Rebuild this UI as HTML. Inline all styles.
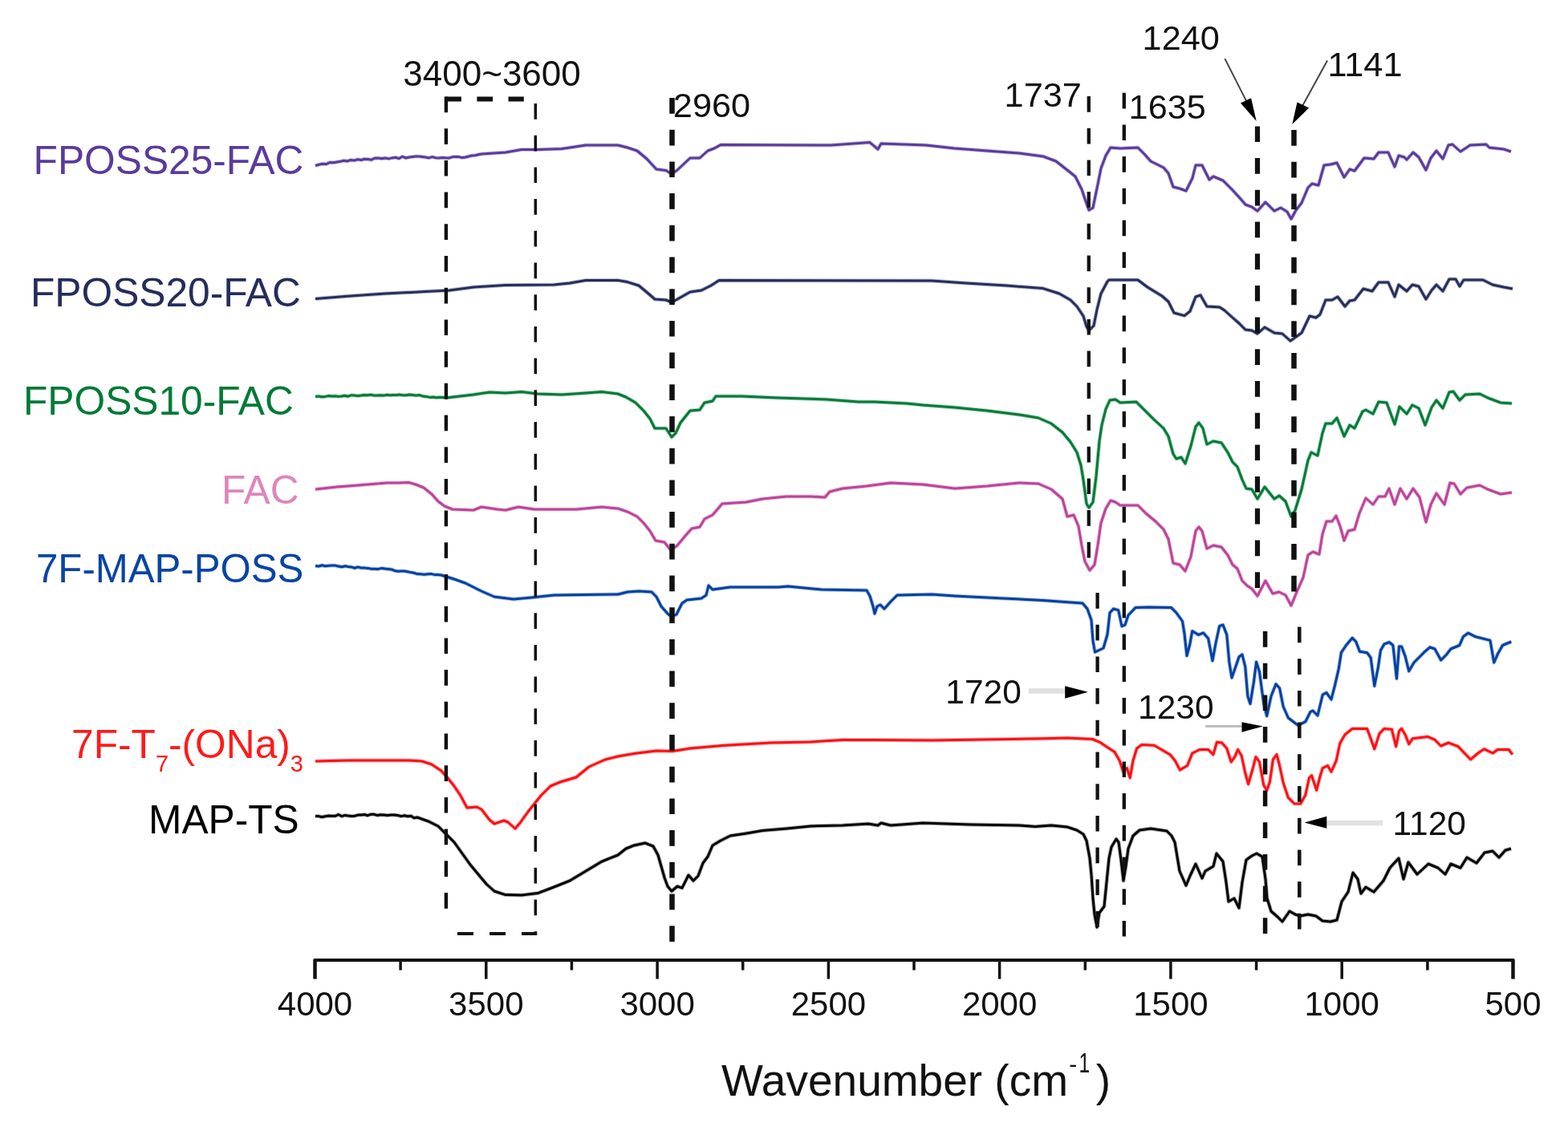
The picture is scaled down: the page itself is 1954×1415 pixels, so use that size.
<!DOCTYPE html>
<html><head><meta charset="utf-8"><style>
html,body{margin:0;padding:0;background:#fff;}
svg{display:block;}
text{font-family:"Liberation Sans",Arial,sans-serif;}
.tk{font-size:42px;text-anchor:middle;fill:#111;}
.an{font-size:44px;fill:#111;}
.lb{font-size:49.7px;}
</style></head><body>
<svg width="1954" height="1415" viewBox="0 0 1954 1415">
<rect width="1954" height="1415" fill="#fff"/>
<line x1="391.0" y1="1197" x2="1887.0" y2="1197" stroke="#111" stroke-width="4"/>
<line x1="1885.5" y1="1196" x2="1885.5" y2="1220.5" stroke="#111" stroke-width="4.5"/>
<text x="1885.5" y="1266" class="tk">500</text>
<line x1="1778.9" y1="1196" x2="1778.9" y2="1209.5" stroke="#111" stroke-width="3.5"/>
<line x1="1672.2" y1="1196" x2="1672.2" y2="1220.5" stroke="#111" stroke-width="3.5"/>
<text x="1672.2" y="1266" class="tk">1000</text>
<line x1="1565.6" y1="1196" x2="1565.6" y2="1209.5" stroke="#111" stroke-width="3.5"/>
<line x1="1458.9" y1="1196" x2="1458.9" y2="1220.5" stroke="#111" stroke-width="3.5"/>
<text x="1458.9" y="1266" class="tk">1500</text>
<line x1="1352.3" y1="1196" x2="1352.3" y2="1209.5" stroke="#111" stroke-width="3.5"/>
<line x1="1245.6" y1="1196" x2="1245.6" y2="1220.5" stroke="#111" stroke-width="3.5"/>
<text x="1245.6" y="1266" class="tk">2000</text>
<line x1="1139.0" y1="1196" x2="1139.0" y2="1209.5" stroke="#111" stroke-width="3.5"/>
<line x1="1032.4" y1="1196" x2="1032.4" y2="1220.5" stroke="#111" stroke-width="3.5"/>
<text x="1032.4" y="1266" class="tk">2500</text>
<line x1="925.7" y1="1196" x2="925.7" y2="1209.5" stroke="#111" stroke-width="3.5"/>
<line x1="819.1" y1="1196" x2="819.1" y2="1220.5" stroke="#111" stroke-width="3.5"/>
<text x="819.1" y="1266" class="tk">3000</text>
<line x1="712.4" y1="1196" x2="712.4" y2="1209.5" stroke="#111" stroke-width="3.5"/>
<line x1="605.8" y1="1196" x2="605.8" y2="1220.5" stroke="#111" stroke-width="3.5"/>
<text x="605.8" y="1266" class="tk">3500</text>
<line x1="499.1" y1="1196" x2="499.1" y2="1209.5" stroke="#111" stroke-width="3.5"/>
<line x1="392.5" y1="1196" x2="392.5" y2="1220.5" stroke="#111" stroke-width="4.5"/>
<text x="392.5" y="1266" class="tk">4000</text>
<path d="M393.0,206.5 L397.5,205.3 L402.0,204.2 L406.5,204.6 L411.0,202.5 L415.5,202.8 L420.0,202.0 L424.3,201.3 L428.6,200.2 L432.9,200.9 L437.1,199.5 L441.4,200.1 L445.7,198.8 L450.0,199.5 L454.3,198.2 L458.6,198.6 L462.9,199.2 L467.1,197.2 L471.4,197.1 L475.7,197.7 L480.0,197.0 L484.3,197.9 L488.6,196.9 L492.9,196.3 L497.1,197.6 L501.4,195.2 L505.7,197.0 L510.0,196.0 L514.0,195.5 L518.0,195.1 L522.0,195.1 L526.0,195.5 L530.0,196.0 L534.3,196.9 L538.7,195.6 L543.0,196.7 L547.3,197.0 L551.7,196.5 L556.0,197.0 L560.0,196.9 L564.0,195.6 L568.0,195.4 L572.0,195.6 L576.0,196.6 L580.0,196.0 L584.0,195.0 L588.0,194.0 L592.0,193.8 L596.0,192.7 L600.0,192.0 L630.0,190.0 L650.0,186.4 L670.0,186.4 L700.0,185.6 L730.0,181.0 L770.0,181.0 L782.0,184.0 L794.0,188.0 L806.0,198.0 L818.0,211.0 L830.0,212.4 L837.0,217.0 L844.0,212.0 L860.0,197.0 L872.0,197.0 L882.0,188.0 L890.0,185.0 L898.0,180.6 L1036.0,181.0 L1084.0,177.6 L1094.0,186.0 L1098.0,179.0 L1154.0,181.0 L1190.0,185.0 L1230.0,188.0 L1270.0,191.0 L1300.0,195.0 L1316.0,201.0 L1330.0,212.0 L1340.0,220.0 L1348.0,236.0 L1352.0,248.0 L1357.0,262.0 L1362.0,259.0 L1368.0,230.0 L1372.0,210.0 L1378.0,194.0 L1384.0,184.0 L1396.0,185.0 L1418.0,184.0 L1426.0,192.0 L1434.0,201.0 L1450.0,209.0 L1456.0,216.0 L1462.0,233.0 L1470.0,235.0 L1478.0,238.0 L1486.0,222.0 L1490.0,206.0 L1498.0,206.0 L1507.0,224.0 L1512.0,220.0 L1524.0,225.0 L1536.0,237.0 L1546.0,248.0 L1552.0,255.0 L1560.0,258.0 L1567.0,263.0 L1577.0,252.0 L1588.0,263.0 L1596.0,259.0 L1604.0,264.0 L1609.0,273.0 L1615.0,262.0 L1622.0,253.0 L1630.0,234.0 L1635.0,229.0 L1643.0,231.0 L1650.0,206.0 L1658.0,205.0 L1666.0,203.0 L1675.0,221.0 L1682.0,211.0 L1688.0,213.0 L1700.0,197.0 L1712.0,198.0 L1718.0,190.0 L1730.0,190.0 L1738.0,208.0 L1743.0,194.0 L1750.0,196.0 L1753.0,199.0 L1761.0,190.0 L1768.0,196.0 L1777.0,212.0 L1783.0,197.0 L1790.0,188.0 L1798.0,198.0 L1805.0,181.0 L1810.0,180.0 L1820.0,189.0 L1832.0,181.0 L1852.0,180.0 L1856.0,184.0 L1874.0,186.0 L1883.0,189.0" fill="none" stroke="#5a3b9b" stroke-opacity="0.3" stroke-width="5" stroke-linejoin="round"/>
<path d="M393.0,206.5 L397.5,205.3 L402.0,204.2 L406.5,204.6 L411.0,202.5 L415.5,202.8 L420.0,202.0 L424.3,201.3 L428.6,200.2 L432.9,200.9 L437.1,199.5 L441.4,200.1 L445.7,198.8 L450.0,199.5 L454.3,198.2 L458.6,198.6 L462.9,199.2 L467.1,197.2 L471.4,197.1 L475.7,197.7 L480.0,197.0 L484.3,197.9 L488.6,196.9 L492.9,196.3 L497.1,197.6 L501.4,195.2 L505.7,197.0 L510.0,196.0 L514.0,195.5 L518.0,195.1 L522.0,195.1 L526.0,195.5 L530.0,196.0 L534.3,196.9 L538.7,195.6 L543.0,196.7 L547.3,197.0 L551.7,196.5 L556.0,197.0 L560.0,196.9 L564.0,195.6 L568.0,195.4 L572.0,195.6 L576.0,196.6 L580.0,196.0 L584.0,195.0 L588.0,194.0 L592.0,193.8 L596.0,192.7 L600.0,192.0 L630.0,190.0 L650.0,186.4 L670.0,186.4 L700.0,185.6 L730.0,181.0 L770.0,181.0 L782.0,184.0 L794.0,188.0 L806.0,198.0 L818.0,211.0 L830.0,212.4 L837.0,217.0 L844.0,212.0 L860.0,197.0 L872.0,197.0 L882.0,188.0 L890.0,185.0 L898.0,180.6 L1036.0,181.0 L1084.0,177.6 L1094.0,186.0 L1098.0,179.0 L1154.0,181.0 L1190.0,185.0 L1230.0,188.0 L1270.0,191.0 L1300.0,195.0 L1316.0,201.0 L1330.0,212.0 L1340.0,220.0 L1348.0,236.0 L1352.0,248.0 L1357.0,262.0 L1362.0,259.0 L1368.0,230.0 L1372.0,210.0 L1378.0,194.0 L1384.0,184.0 L1396.0,185.0 L1418.0,184.0 L1426.0,192.0 L1434.0,201.0 L1450.0,209.0 L1456.0,216.0 L1462.0,233.0 L1470.0,235.0 L1478.0,238.0 L1486.0,222.0 L1490.0,206.0 L1498.0,206.0 L1507.0,224.0 L1512.0,220.0 L1524.0,225.0 L1536.0,237.0 L1546.0,248.0 L1552.0,255.0 L1560.0,258.0 L1567.0,263.0 L1577.0,252.0 L1588.0,263.0 L1596.0,259.0 L1604.0,264.0 L1609.0,273.0 L1615.0,262.0 L1622.0,253.0 L1630.0,234.0 L1635.0,229.0 L1643.0,231.0 L1650.0,206.0 L1658.0,205.0 L1666.0,203.0 L1675.0,221.0 L1682.0,211.0 L1688.0,213.0 L1700.0,197.0 L1712.0,198.0 L1718.0,190.0 L1730.0,190.0 L1738.0,208.0 L1743.0,194.0 L1750.0,196.0 L1753.0,199.0 L1761.0,190.0 L1768.0,196.0 L1777.0,212.0 L1783.0,197.0 L1790.0,188.0 L1798.0,198.0 L1805.0,181.0 L1810.0,180.0 L1820.0,189.0 L1832.0,181.0 L1852.0,180.0 L1856.0,184.0 L1874.0,186.0 L1883.0,189.0" fill="none" stroke="#5a3b9b" stroke-width="3.0" stroke-linejoin="round"/>
<path d="M393.0,372.4 L430.0,369.6 L480.0,366.0 L530.0,363.6 L560.0,362.0 L590.0,358.0 L630.0,355.6 L690.0,355.0 L710.0,353.0 L730.0,349.4 L770.0,349.4 L782.0,351.6 L796.0,356.0 L808.0,366.0 L816.0,373.0 L830.0,374.0 L837.0,377.0 L846.0,372.0 L860.0,364.0 L874.0,362.0 L886.0,356.0 L896.0,349.6 L1161.0,350.0 L1204.0,353.0 L1254.0,356.0 L1300.0,359.6 L1320.0,366.0 L1334.0,374.0 L1342.0,382.0 L1350.0,394.0 L1354.0,407.0 L1357.0,412.0 L1363.0,406.0 L1367.0,386.0 L1372.0,366.0 L1380.0,351.0 L1382.0,349.0 L1418.0,349.0 L1430.0,358.0 L1448.0,369.0 L1456.0,376.0 L1463.0,390.0 L1476.0,393.6 L1483.0,388.0 L1490.0,370.0 L1496.0,368.0 L1504.0,382.0 L1520.0,383.0 L1526.0,387.0 L1536.0,396.0 L1544.0,403.0 L1552.0,411.0 L1560.0,412.0 L1567.0,416.0 L1576.0,408.0 L1588.0,415.0 L1598.0,416.0 L1608.0,425.0 L1615.0,420.0 L1622.0,415.0 L1632.0,394.0 L1640.0,396.0 L1645.0,392.0 L1652.0,374.0 L1660.0,374.0 L1667.0,370.0 L1676.0,382.0 L1682.0,375.0 L1688.0,374.0 L1699.0,360.0 L1710.0,363.0 L1718.0,352.0 L1730.0,352.0 L1738.0,370.0 L1743.0,355.0 L1753.0,363.0 L1760.0,355.0 L1768.0,357.0 L1777.0,373.0 L1784.0,362.0 L1790.0,355.0 L1798.0,363.0 L1806.0,348.0 L1814.0,348.0 L1819.0,357.0 L1824.0,349.0 L1848.0,349.0 L1860.0,355.0 L1874.0,358.0 L1885.0,360.0" fill="none" stroke="#252d5c" stroke-opacity="0.3" stroke-width="5" stroke-linejoin="round"/>
<path d="M393.0,372.4 L430.0,369.6 L480.0,366.0 L530.0,363.6 L560.0,362.0 L590.0,358.0 L630.0,355.6 L690.0,355.0 L710.0,353.0 L730.0,349.4 L770.0,349.4 L782.0,351.6 L796.0,356.0 L808.0,366.0 L816.0,373.0 L830.0,374.0 L837.0,377.0 L846.0,372.0 L860.0,364.0 L874.0,362.0 L886.0,356.0 L896.0,349.6 L1161.0,350.0 L1204.0,353.0 L1254.0,356.0 L1300.0,359.6 L1320.0,366.0 L1334.0,374.0 L1342.0,382.0 L1350.0,394.0 L1354.0,407.0 L1357.0,412.0 L1363.0,406.0 L1367.0,386.0 L1372.0,366.0 L1380.0,351.0 L1382.0,349.0 L1418.0,349.0 L1430.0,358.0 L1448.0,369.0 L1456.0,376.0 L1463.0,390.0 L1476.0,393.6 L1483.0,388.0 L1490.0,370.0 L1496.0,368.0 L1504.0,382.0 L1520.0,383.0 L1526.0,387.0 L1536.0,396.0 L1544.0,403.0 L1552.0,411.0 L1560.0,412.0 L1567.0,416.0 L1576.0,408.0 L1588.0,415.0 L1598.0,416.0 L1608.0,425.0 L1615.0,420.0 L1622.0,415.0 L1632.0,394.0 L1640.0,396.0 L1645.0,392.0 L1652.0,374.0 L1660.0,374.0 L1667.0,370.0 L1676.0,382.0 L1682.0,375.0 L1688.0,374.0 L1699.0,360.0 L1710.0,363.0 L1718.0,352.0 L1730.0,352.0 L1738.0,370.0 L1743.0,355.0 L1753.0,363.0 L1760.0,355.0 L1768.0,357.0 L1777.0,373.0 L1784.0,362.0 L1790.0,355.0 L1798.0,363.0 L1806.0,348.0 L1814.0,348.0 L1819.0,357.0 L1824.0,349.0 L1848.0,349.0 L1860.0,355.0 L1874.0,358.0 L1885.0,360.0" fill="none" stroke="#252d5c" stroke-width="3.0" stroke-linejoin="round"/>
<path d="M393.0,494.4 L397.1,494.0 L401.1,494.7 L405.2,494.4 L409.3,493.6 L413.4,494.0 L417.4,493.8 L421.5,494.3 L425.6,494.0 L429.6,493.2 L433.7,494.2 L437.8,492.7 L441.9,493.1 L445.9,493.5 L450.0,493.0 L454.0,492.4 L458.0,492.8 L462.0,492.1 L466.0,493.0 L470.0,493.1 L474.0,492.7 L478.0,493.1 L482.0,492.2 L486.0,492.7 L490.0,492.5 L494.0,492.4 L498.0,492.1 L502.0,492.7 L506.0,492.8 L510.0,492.0 L514.3,492.4 L518.6,493.1 L522.9,492.6 L527.1,494.0 L531.4,494.4 L535.7,495.4 L540.0,495.0 L544.0,495.8 L548.0,495.2 L552.0,495.6 L556.0,496.0 L590.0,492.0 L610.0,489.0 L630.0,490.0 L650.0,488.4 L670.0,491.0 L700.0,492.0 L730.0,490.0 L750.0,488.4 L770.0,491.0 L780.0,495.0 L792.0,502.0 L802.0,512.0 L810.0,522.0 L816.0,534.0 L830.0,534.0 L837.0,545.0 L842.0,540.0 L848.0,527.0 L860.0,512.0 L872.0,511.0 L878.0,502.0 L888.0,500.0 L892.0,494.0 L924.0,494.0 L970.0,496.0 L1030.0,498.0 L1070.0,501.0 L1090.0,501.0 L1130.0,503.0 L1150.0,505.0 L1190.0,508.0 L1230.0,512.0 L1270.0,517.0 L1294.0,521.0 L1310.0,528.0 L1324.0,539.0 L1334.0,551.0 L1342.0,564.0 L1347.0,580.0 L1350.0,598.0 L1354.0,628.0 L1357.0,633.0 L1362.0,626.0 L1366.0,594.0 L1370.0,550.0 L1373.0,530.0 L1378.0,510.0 L1383.0,499.0 L1390.0,498.0 L1396.0,502.0 L1416.0,501.0 L1424.0,509.0 L1438.0,523.0 L1450.0,534.0 L1456.0,544.0 L1462.0,566.0 L1466.0,572.0 L1472.0,570.0 L1477.0,578.0 L1484.0,556.0 L1490.0,532.0 L1494.0,527.0 L1499.0,534.0 L1504.0,554.0 L1512.0,550.0 L1522.0,552.0 L1530.0,564.0 L1536.0,576.0 L1542.0,582.0 L1548.0,598.0 L1553.0,609.0 L1560.0,610.0 L1567.0,622.0 L1576.0,607.0 L1588.0,622.0 L1594.0,618.0 L1602.0,625.0 L1609.0,644.0 L1614.0,636.0 L1622.0,610.0 L1630.0,574.0 L1634.0,564.0 L1642.0,568.0 L1648.0,540.0 L1652.0,528.0 L1660.0,528.0 L1666.0,521.0 L1675.0,544.0 L1682.0,530.0 L1688.0,534.0 L1698.0,513.0 L1702.0,511.0 L1711.0,516.0 L1718.0,501.0 L1728.0,502.0 L1738.0,529.0 L1744.0,507.0 L1753.0,516.0 L1760.0,505.0 L1768.0,509.0 L1776.0,530.0 L1784.0,508.0 L1790.0,499.0 L1798.0,509.0 L1806.0,489.0 L1811.0,488.0 L1819.0,499.0 L1826.0,492.0 L1844.0,491.0 L1854.0,496.0 L1870.0,502.0 L1884.0,503.0" fill="none" stroke="#007a36" stroke-opacity="0.3" stroke-width="5" stroke-linejoin="round"/>
<path d="M393.0,494.4 L397.1,494.0 L401.1,494.7 L405.2,494.4 L409.3,493.6 L413.4,494.0 L417.4,493.8 L421.5,494.3 L425.6,494.0 L429.6,493.2 L433.7,494.2 L437.8,492.7 L441.9,493.1 L445.9,493.5 L450.0,493.0 L454.0,492.4 L458.0,492.8 L462.0,492.1 L466.0,493.0 L470.0,493.1 L474.0,492.7 L478.0,493.1 L482.0,492.2 L486.0,492.7 L490.0,492.5 L494.0,492.4 L498.0,492.1 L502.0,492.7 L506.0,492.8 L510.0,492.0 L514.3,492.4 L518.6,493.1 L522.9,492.6 L527.1,494.0 L531.4,494.4 L535.7,495.4 L540.0,495.0 L544.0,495.8 L548.0,495.2 L552.0,495.6 L556.0,496.0 L590.0,492.0 L610.0,489.0 L630.0,490.0 L650.0,488.4 L670.0,491.0 L700.0,492.0 L730.0,490.0 L750.0,488.4 L770.0,491.0 L780.0,495.0 L792.0,502.0 L802.0,512.0 L810.0,522.0 L816.0,534.0 L830.0,534.0 L837.0,545.0 L842.0,540.0 L848.0,527.0 L860.0,512.0 L872.0,511.0 L878.0,502.0 L888.0,500.0 L892.0,494.0 L924.0,494.0 L970.0,496.0 L1030.0,498.0 L1070.0,501.0 L1090.0,501.0 L1130.0,503.0 L1150.0,505.0 L1190.0,508.0 L1230.0,512.0 L1270.0,517.0 L1294.0,521.0 L1310.0,528.0 L1324.0,539.0 L1334.0,551.0 L1342.0,564.0 L1347.0,580.0 L1350.0,598.0 L1354.0,628.0 L1357.0,633.0 L1362.0,626.0 L1366.0,594.0 L1370.0,550.0 L1373.0,530.0 L1378.0,510.0 L1383.0,499.0 L1390.0,498.0 L1396.0,502.0 L1416.0,501.0 L1424.0,509.0 L1438.0,523.0 L1450.0,534.0 L1456.0,544.0 L1462.0,566.0 L1466.0,572.0 L1472.0,570.0 L1477.0,578.0 L1484.0,556.0 L1490.0,532.0 L1494.0,527.0 L1499.0,534.0 L1504.0,554.0 L1512.0,550.0 L1522.0,552.0 L1530.0,564.0 L1536.0,576.0 L1542.0,582.0 L1548.0,598.0 L1553.0,609.0 L1560.0,610.0 L1567.0,622.0 L1576.0,607.0 L1588.0,622.0 L1594.0,618.0 L1602.0,625.0 L1609.0,644.0 L1614.0,636.0 L1622.0,610.0 L1630.0,574.0 L1634.0,564.0 L1642.0,568.0 L1648.0,540.0 L1652.0,528.0 L1660.0,528.0 L1666.0,521.0 L1675.0,544.0 L1682.0,530.0 L1688.0,534.0 L1698.0,513.0 L1702.0,511.0 L1711.0,516.0 L1718.0,501.0 L1728.0,502.0 L1738.0,529.0 L1744.0,507.0 L1753.0,516.0 L1760.0,505.0 L1768.0,509.0 L1776.0,530.0 L1784.0,508.0 L1790.0,499.0 L1798.0,509.0 L1806.0,489.0 L1811.0,488.0 L1819.0,499.0 L1826.0,492.0 L1844.0,491.0 L1854.0,496.0 L1870.0,502.0 L1884.0,503.0" fill="none" stroke="#007a36" stroke-width="3.0" stroke-linejoin="round"/>
<path d="M393.0,610.0 L420.0,607.0 L440.0,605.6 L482.0,602.0 L498.0,602.0 L510.0,601.6 L518.0,604.0 L528.0,608.0 L538.0,616.0 L546.0,625.0 L554.0,631.0 L564.0,635.0 L590.0,636.0 L600.0,632.0 L620.0,635.0 L630.0,636.0 L646.0,632.0 L666.0,635.0 L718.0,635.0 L750.0,632.0 L770.0,634.0 L782.0,638.0 L794.0,644.0 L802.0,652.0 L810.0,662.0 L817.0,674.0 L828.0,676.0 L836.0,686.0 L844.0,680.0 L854.0,668.0 L862.0,659.0 L872.0,657.0 L878.0,647.0 L888.0,642.0 L900.0,628.0 L930.0,626.0 L950.0,622.0 L980.0,619.0 L1010.0,619.0 L1028.0,620.0 L1034.0,613.0 L1050.0,609.0 L1080.0,606.0 L1110.0,602.0 L1150.0,604.0 L1190.0,609.0 L1230.0,606.0 L1270.0,602.0 L1294.0,603.0 L1310.0,610.0 L1324.0,622.0 L1330.0,644.0 L1338.0,642.0 L1344.0,656.0 L1348.0,680.0 L1352.0,700.0 L1358.0,711.0 L1364.0,704.0 L1368.0,680.0 L1372.0,652.0 L1378.0,634.0 L1384.0,624.0 L1390.0,626.0 L1396.0,630.0 L1418.0,630.0 L1428.0,640.0 L1440.0,650.0 L1450.0,660.0 L1456.0,672.0 L1462.0,702.0 L1470.0,704.0 L1477.0,712.0 L1484.0,694.0 L1490.0,662.0 L1494.0,657.0 L1498.0,662.0 L1504.0,684.0 L1512.0,680.0 L1522.0,682.0 L1530.0,692.0 L1536.0,704.0 L1542.0,709.0 L1548.0,724.0 L1554.0,730.0 L1560.0,734.0 L1567.0,743.0 L1577.0,724.0 L1586.0,740.0 L1594.0,738.0 L1602.0,742.0 L1609.0,755.0 L1616.0,738.0 L1624.0,720.0 L1630.0,692.0 L1636.0,688.0 L1644.0,691.0 L1648.0,666.0 L1653.0,650.0 L1660.0,650.0 L1665.0,643.0 L1670.0,656.0 L1675.0,674.0 L1680.0,662.0 L1688.0,660.0 L1694.0,640.0 L1702.0,621.0 L1711.0,629.0 L1718.0,619.0 L1726.0,619.0 L1731.0,609.0 L1738.0,629.0 L1745.0,609.0 L1753.0,622.0 L1761.0,609.0 L1769.0,620.0 L1777.0,651.0 L1783.0,629.0 L1790.0,615.0 L1800.0,629.0 L1807.0,602.0 L1812.0,603.0 L1820.0,616.0 L1828.0,608.0 L1844.0,605.0 L1854.0,610.0 L1870.0,616.0 L1884.0,614.0" fill="none" stroke="#bc4499" stroke-opacity="0.3" stroke-width="5" stroke-linejoin="round"/>
<path d="M393.0,610.0 L420.0,607.0 L440.0,605.6 L482.0,602.0 L498.0,602.0 L510.0,601.6 L518.0,604.0 L528.0,608.0 L538.0,616.0 L546.0,625.0 L554.0,631.0 L564.0,635.0 L590.0,636.0 L600.0,632.0 L620.0,635.0 L630.0,636.0 L646.0,632.0 L666.0,635.0 L718.0,635.0 L750.0,632.0 L770.0,634.0 L782.0,638.0 L794.0,644.0 L802.0,652.0 L810.0,662.0 L817.0,674.0 L828.0,676.0 L836.0,686.0 L844.0,680.0 L854.0,668.0 L862.0,659.0 L872.0,657.0 L878.0,647.0 L888.0,642.0 L900.0,628.0 L930.0,626.0 L950.0,622.0 L980.0,619.0 L1010.0,619.0 L1028.0,620.0 L1034.0,613.0 L1050.0,609.0 L1080.0,606.0 L1110.0,602.0 L1150.0,604.0 L1190.0,609.0 L1230.0,606.0 L1270.0,602.0 L1294.0,603.0 L1310.0,610.0 L1324.0,622.0 L1330.0,644.0 L1338.0,642.0 L1344.0,656.0 L1348.0,680.0 L1352.0,700.0 L1358.0,711.0 L1364.0,704.0 L1368.0,680.0 L1372.0,652.0 L1378.0,634.0 L1384.0,624.0 L1390.0,626.0 L1396.0,630.0 L1418.0,630.0 L1428.0,640.0 L1440.0,650.0 L1450.0,660.0 L1456.0,672.0 L1462.0,702.0 L1470.0,704.0 L1477.0,712.0 L1484.0,694.0 L1490.0,662.0 L1494.0,657.0 L1498.0,662.0 L1504.0,684.0 L1512.0,680.0 L1522.0,682.0 L1530.0,692.0 L1536.0,704.0 L1542.0,709.0 L1548.0,724.0 L1554.0,730.0 L1560.0,734.0 L1567.0,743.0 L1577.0,724.0 L1586.0,740.0 L1594.0,738.0 L1602.0,742.0 L1609.0,755.0 L1616.0,738.0 L1624.0,720.0 L1630.0,692.0 L1636.0,688.0 L1644.0,691.0 L1648.0,666.0 L1653.0,650.0 L1660.0,650.0 L1665.0,643.0 L1670.0,656.0 L1675.0,674.0 L1680.0,662.0 L1688.0,660.0 L1694.0,640.0 L1702.0,621.0 L1711.0,629.0 L1718.0,619.0 L1726.0,619.0 L1731.0,609.0 L1738.0,629.0 L1745.0,609.0 L1753.0,622.0 L1761.0,609.0 L1769.0,620.0 L1777.0,651.0 L1783.0,629.0 L1790.0,615.0 L1800.0,629.0 L1807.0,602.0 L1812.0,603.0 L1820.0,616.0 L1828.0,608.0 L1844.0,605.0 L1854.0,610.0 L1870.0,616.0 L1884.0,614.0" fill="none" stroke="#bc4499" stroke-width="3.0" stroke-linejoin="round"/>
<path d="M393.0,705.6 L397.1,706.0 L401.3,704.8 L405.4,705.7 L409.6,705.2 L413.7,705.1 L417.9,705.1 L422.0,706.0 L426.0,706.8 L430.0,705.8 L434.0,706.4 L438.0,706.9 L442.0,708.2 L446.0,706.9 L450.0,708.0 L454.3,708.0 L458.6,708.4 L462.9,709.2 L467.1,709.2 L471.4,709.4 L475.7,708.4 L480.0,709.0 L484.0,709.4 L488.0,709.9 L492.0,711.6 L496.0,712.3 L500.0,712.0 L504.0,712.0 L508.0,712.8 L512.0,713.6 L516.0,714.3 L520.0,715.6 L524.3,715.8 L528.6,716.2 L532.9,715.7 L537.1,715.4 L541.4,716.4 L545.7,716.5 L550.0,717.0 L566.0,722.0 L580.0,727.0 L600.0,737.0 L616.0,744.0 L640.0,747.0 L662.0,745.0 L690.0,742.0 L770.0,741.0 L782.0,738.0 L796.0,737.0 L812.0,738.0 L818.0,744.0 L824.0,756.0 L832.0,765.0 L837.0,769.0 L843.0,766.0 L850.0,752.0 L856.0,748.0 L874.0,746.0 L880.0,742.0 L883.0,730.0 L888.0,735.0 L910.0,732.0 L970.0,732.0 L982.0,731.0 L1024.0,735.0 L1080.0,736.0 L1084.0,743.0 L1088.0,756.0 L1090.0,765.0 L1093.0,756.0 L1097.0,754.0 L1102.0,759.0 L1110.0,750.0 L1118.0,742.0 L1161.0,741.0 L1190.0,743.0 L1250.0,746.0 L1300.0,748.4 L1330.7,750.7 L1349.0,752.0 L1355.0,759.0 L1360.0,773.0 L1362.0,799.0 L1364.5,813.0 L1375.0,808.0 L1380.0,791.0 L1383.0,764.0 L1387.5,759.0 L1393.7,760.7 L1398.0,780.7 L1402.0,779.0 L1406.0,767.0 L1415.0,757.6 L1430.5,757.0 L1459.7,757.6 L1466.0,764.0 L1473.5,774.5 L1476.0,790.0 L1479.0,817.5 L1482.7,803.7 L1485.8,786.8 L1493.5,791.4 L1499.6,789.0 L1505.7,796.0 L1511.0,823.7 L1515.0,802.0 L1519.6,780.7 L1524.0,779.0 L1528.8,791.4 L1531.8,825.2 L1535.0,845.0 L1538.7,834.4 L1544.0,819.0 L1548.0,816.0 L1551.8,831.3 L1554.9,868.0 L1558.0,877.4 L1562.5,849.8 L1565.6,825.2 L1569.5,837.5 L1574.8,877.4 L1578.7,892.7 L1584.0,868.0 L1590.0,852.8 L1594.6,858.0 L1599.2,881.0 L1605.4,895.0 L1617.6,904.3 L1626.8,899.7 L1633.0,887.4 L1636.0,886.0 L1642.0,892.0 L1648.3,866.0 L1653.0,863.6 L1659.0,872.0 L1663.7,853.7 L1668.3,833.7 L1671.4,813.7 L1677.5,804.5 L1685.2,795.3 L1689.8,800.0 L1694.4,812.2 L1703.6,813.7 L1708.2,820.0 L1712.8,855.2 L1717.4,832.0 L1720.5,810.7 L1725.0,803.0 L1731.3,800.7 L1735.9,804.5 L1740.5,846.0 L1743.5,806.0 L1746.6,806.0 L1751.2,818.3 L1755.8,836.8 L1762.0,826.0 L1768.0,820.0 L1774.2,813.7 L1782.0,806.8 L1788.0,809.0 L1795.7,823.0 L1801.9,816.8 L1808.0,809.0 L1818.8,804.5 L1823.4,793.8 L1829.5,789.2 L1838.7,793.8 L1857.0,798.4 L1861.8,826.0 L1866.4,815.3 L1872.5,804.5 L1883.3,800.0" fill="none" stroke="#0040a2" stroke-opacity="0.3" stroke-width="5" stroke-linejoin="round"/>
<path d="M393.0,705.6 L397.1,706.0 L401.3,704.8 L405.4,705.7 L409.6,705.2 L413.7,705.1 L417.9,705.1 L422.0,706.0 L426.0,706.8 L430.0,705.8 L434.0,706.4 L438.0,706.9 L442.0,708.2 L446.0,706.9 L450.0,708.0 L454.3,708.0 L458.6,708.4 L462.9,709.2 L467.1,709.2 L471.4,709.4 L475.7,708.4 L480.0,709.0 L484.0,709.4 L488.0,709.9 L492.0,711.6 L496.0,712.3 L500.0,712.0 L504.0,712.0 L508.0,712.8 L512.0,713.6 L516.0,714.3 L520.0,715.6 L524.3,715.8 L528.6,716.2 L532.9,715.7 L537.1,715.4 L541.4,716.4 L545.7,716.5 L550.0,717.0 L566.0,722.0 L580.0,727.0 L600.0,737.0 L616.0,744.0 L640.0,747.0 L662.0,745.0 L690.0,742.0 L770.0,741.0 L782.0,738.0 L796.0,737.0 L812.0,738.0 L818.0,744.0 L824.0,756.0 L832.0,765.0 L837.0,769.0 L843.0,766.0 L850.0,752.0 L856.0,748.0 L874.0,746.0 L880.0,742.0 L883.0,730.0 L888.0,735.0 L910.0,732.0 L970.0,732.0 L982.0,731.0 L1024.0,735.0 L1080.0,736.0 L1084.0,743.0 L1088.0,756.0 L1090.0,765.0 L1093.0,756.0 L1097.0,754.0 L1102.0,759.0 L1110.0,750.0 L1118.0,742.0 L1161.0,741.0 L1190.0,743.0 L1250.0,746.0 L1300.0,748.4 L1330.7,750.7 L1349.0,752.0 L1355.0,759.0 L1360.0,773.0 L1362.0,799.0 L1364.5,813.0 L1375.0,808.0 L1380.0,791.0 L1383.0,764.0 L1387.5,759.0 L1393.7,760.7 L1398.0,780.7 L1402.0,779.0 L1406.0,767.0 L1415.0,757.6 L1430.5,757.0 L1459.7,757.6 L1466.0,764.0 L1473.5,774.5 L1476.0,790.0 L1479.0,817.5 L1482.7,803.7 L1485.8,786.8 L1493.5,791.4 L1499.6,789.0 L1505.7,796.0 L1511.0,823.7 L1515.0,802.0 L1519.6,780.7 L1524.0,779.0 L1528.8,791.4 L1531.8,825.2 L1535.0,845.0 L1538.7,834.4 L1544.0,819.0 L1548.0,816.0 L1551.8,831.3 L1554.9,868.0 L1558.0,877.4 L1562.5,849.8 L1565.6,825.2 L1569.5,837.5 L1574.8,877.4 L1578.7,892.7 L1584.0,868.0 L1590.0,852.8 L1594.6,858.0 L1599.2,881.0 L1605.4,895.0 L1617.6,904.3 L1626.8,899.7 L1633.0,887.4 L1636.0,886.0 L1642.0,892.0 L1648.3,866.0 L1653.0,863.6 L1659.0,872.0 L1663.7,853.7 L1668.3,833.7 L1671.4,813.7 L1677.5,804.5 L1685.2,795.3 L1689.8,800.0 L1694.4,812.2 L1703.6,813.7 L1708.2,820.0 L1712.8,855.2 L1717.4,832.0 L1720.5,810.7 L1725.0,803.0 L1731.3,800.7 L1735.9,804.5 L1740.5,846.0 L1743.5,806.0 L1746.6,806.0 L1751.2,818.3 L1755.8,836.8 L1762.0,826.0 L1768.0,820.0 L1774.2,813.7 L1782.0,806.8 L1788.0,809.0 L1795.7,823.0 L1801.9,816.8 L1808.0,809.0 L1818.8,804.5 L1823.4,793.8 L1829.5,789.2 L1838.7,793.8 L1857.0,798.4 L1861.8,826.0 L1866.4,815.3 L1872.5,804.5 L1883.3,800.0" fill="none" stroke="#0040a2" stroke-width="3.0" stroke-linejoin="round"/>
<path d="M393.0,949.0 L434.0,948.0 L510.0,948.0 L526.0,949.0 L538.0,953.0 L550.0,961.0 L558.0,970.0 L566.0,980.0 L574.0,992.0 L582.0,1007.0 L594.0,1006.0 L600.0,1009.0 L610.0,1022.0 L616.0,1027.0 L628.0,1023.0 L633.0,1025.0 L642.0,1033.0 L648.0,1026.0 L658.0,1012.0 L666.0,1002.0 L674.0,992.0 L686.0,980.0 L698.0,975.0 L718.0,969.0 L734.0,956.0 L754.0,947.0 L770.0,943.0 L790.0,939.6 L818.0,936.0 L838.0,936.6 L860.0,933.0 L900.0,929.6 L960.0,926.0 L1010.0,925.0 L1050.0,922.4 L1090.0,922.4 L1161.0,923.0 L1300.0,920.7 L1330.7,920.0 L1361.4,921.5 L1370.6,925.3 L1379.8,931.5 L1389.0,937.6 L1395.2,948.3 L1399.8,962.2 L1404.4,957.6 L1408.2,969.8 L1412.0,948.3 L1416.7,933.0 L1422.8,928.4 L1438.2,929.2 L1447.4,934.5 L1458.1,940.7 L1464.3,948.3 L1470.4,959.9 L1479.6,954.5 L1485.8,939.1 L1495.0,934.5 L1505.7,934.5 L1511.9,940.7 L1516.5,925.3 L1522.6,926.0 L1528.8,933.0 L1534.2,949.9 L1538.7,943.7 L1542.6,934.5 L1547.2,942.2 L1551.8,963.7 L1555.6,977.5 L1561.0,959.0 L1564.9,943.7 L1569.5,949.9 L1574.8,979.0 L1578.7,985.2 L1582.5,974.4 L1586.4,946.8 L1591.0,940.7 L1594.6,954.5 L1599.2,976.0 L1605.4,994.4 L1613.0,1002.0 L1620.7,1002.0 L1626.8,991.3 L1631.5,969.8 L1634.5,966.8 L1640.7,985.2 L1645.3,966.8 L1648.3,957.6 L1654.5,954.5 L1659.0,962.2 L1665.2,948.3 L1669.8,926.8 L1676.0,916.0 L1685.2,908.4 L1703.6,908.4 L1708.2,920.7 L1712.8,933.8 L1719.0,914.6 L1725.0,908.4 L1734.3,909.2 L1739.7,930.7 L1743.5,911.5 L1746.6,908.4 L1751.2,916.0 L1755.8,927.6 L1760.4,920.7 L1778.9,918.4 L1788.0,922.2 L1795.7,930.0 L1805.0,926.0 L1817.2,930.7 L1825.0,939.0 L1832.6,946.8 L1841.8,939.0 L1849.5,933.8 L1860.2,939.0 L1866.4,934.5 L1880.2,934.5 L1884.8,940.7" fill="none" stroke="#ff0f14" stroke-opacity="0.3" stroke-width="5" stroke-linejoin="round"/>
<path d="M393.0,949.0 L434.0,948.0 L510.0,948.0 L526.0,949.0 L538.0,953.0 L550.0,961.0 L558.0,970.0 L566.0,980.0 L574.0,992.0 L582.0,1007.0 L594.0,1006.0 L600.0,1009.0 L610.0,1022.0 L616.0,1027.0 L628.0,1023.0 L633.0,1025.0 L642.0,1033.0 L648.0,1026.0 L658.0,1012.0 L666.0,1002.0 L674.0,992.0 L686.0,980.0 L698.0,975.0 L718.0,969.0 L734.0,956.0 L754.0,947.0 L770.0,943.0 L790.0,939.6 L818.0,936.0 L838.0,936.6 L860.0,933.0 L900.0,929.6 L960.0,926.0 L1010.0,925.0 L1050.0,922.4 L1090.0,922.4 L1161.0,923.0 L1300.0,920.7 L1330.7,920.0 L1361.4,921.5 L1370.6,925.3 L1379.8,931.5 L1389.0,937.6 L1395.2,948.3 L1399.8,962.2 L1404.4,957.6 L1408.2,969.8 L1412.0,948.3 L1416.7,933.0 L1422.8,928.4 L1438.2,929.2 L1447.4,934.5 L1458.1,940.7 L1464.3,948.3 L1470.4,959.9 L1479.6,954.5 L1485.8,939.1 L1495.0,934.5 L1505.7,934.5 L1511.9,940.7 L1516.5,925.3 L1522.6,926.0 L1528.8,933.0 L1534.2,949.9 L1538.7,943.7 L1542.6,934.5 L1547.2,942.2 L1551.8,963.7 L1555.6,977.5 L1561.0,959.0 L1564.9,943.7 L1569.5,949.9 L1574.8,979.0 L1578.7,985.2 L1582.5,974.4 L1586.4,946.8 L1591.0,940.7 L1594.6,954.5 L1599.2,976.0 L1605.4,994.4 L1613.0,1002.0 L1620.7,1002.0 L1626.8,991.3 L1631.5,969.8 L1634.5,966.8 L1640.7,985.2 L1645.3,966.8 L1648.3,957.6 L1654.5,954.5 L1659.0,962.2 L1665.2,948.3 L1669.8,926.8 L1676.0,916.0 L1685.2,908.4 L1703.6,908.4 L1708.2,920.7 L1712.8,933.8 L1719.0,914.6 L1725.0,908.4 L1734.3,909.2 L1739.7,930.7 L1743.5,911.5 L1746.6,908.4 L1751.2,916.0 L1755.8,927.6 L1760.4,920.7 L1778.9,918.4 L1788.0,922.2 L1795.7,930.0 L1805.0,926.0 L1817.2,930.7 L1825.0,939.0 L1832.6,946.8 L1841.8,939.0 L1849.5,933.8 L1860.2,939.0 L1866.4,934.5 L1880.2,934.5 L1884.8,940.7" fill="none" stroke="#ff0f14" stroke-width="3.0" stroke-linejoin="round"/>
<path d="M393.0,1017.6 L397.1,1017.6 L401.2,1018.5 L405.3,1017.7 L409.4,1017.1 L413.6,1017.2 L417.7,1017.3 L421.8,1015.5 L425.9,1017.6 L430.0,1016.4 L434.0,1017.1 L438.0,1017.4 L442.0,1017.2 L446.0,1016.1 L450.0,1016.1 L454.0,1015.4 L458.0,1016.7 L462.0,1015.3 L466.0,1015.3 L470.0,1016.4 L474.3,1015.8 L478.6,1015.9 L482.9,1016.5 L487.1,1015.9 L491.4,1016.0 L495.7,1016.5 L500.0,1017.6 L504.0,1016.8 L508.0,1017.8 L512.0,1017.2 L516.0,1019.7 L520.0,1019.0 L534.0,1024.0 L546.0,1030.0 L556.0,1040.0 L566.0,1050.0 L576.0,1064.0 L586.0,1078.0 L596.0,1090.0 L606.0,1102.0 L616.0,1111.0 L630.0,1115.6 L650.0,1116.0 L670.0,1113.6 L690.0,1106.0 L710.0,1098.0 L730.0,1086.0 L750.0,1074.0 L770.0,1066.0 L780.0,1058.0 L790.0,1054.0 L804.0,1051.0 L814.0,1055.0 L820.0,1066.0 L824.0,1080.0 L828.0,1094.0 L832.0,1105.0 L837.0,1111.0 L844.0,1105.0 L850.0,1107.0 L858.0,1091.0 L864.0,1098.0 L870.0,1092.0 L876.0,1076.0 L882.0,1068.0 L888.0,1054.0 L898.0,1048.0 L910.0,1042.0 L930.0,1039.0 L950.0,1035.6 L980.0,1033.0 L1010.0,1030.0 L1050.0,1029.0 L1082.0,1027.0 L1094.0,1029.0 L1098.0,1026.0 L1110.0,1029.0 L1150.0,1026.0 L1210.0,1028.0 L1270.0,1029.0 L1290.0,1030.4 L1310.0,1029.0 L1330.0,1031.0 L1342.0,1035.0 L1350.0,1040.0 L1354.0,1048.0 L1358.0,1070.0 L1360.0,1090.0 L1362.0,1120.0 L1364.0,1140.0 L1367.0,1156.0 L1370.0,1138.0 L1376.0,1130.0 L1379.0,1100.0 L1382.0,1070.0 L1385.0,1056.0 L1391.0,1046.0 L1394.0,1050.0 L1397.0,1072.0 L1400.0,1098.0 L1403.0,1080.0 L1406.0,1058.0 L1412.0,1042.0 L1420.0,1035.0 L1434.0,1033.0 L1454.0,1036.0 L1460.0,1042.0 L1464.0,1050.0 L1467.0,1068.0 L1470.0,1086.0 L1478.0,1104.0 L1483.0,1092.0 L1490.0,1077.0 L1498.0,1095.0 L1502.0,1086.0 L1512.0,1080.0 L1516.0,1064.0 L1524.0,1074.0 L1528.0,1100.0 L1531.0,1124.0 L1538.0,1120.0 L1544.0,1132.0 L1548.0,1100.0 L1553.0,1072.0 L1560.0,1067.0 L1566.0,1064.0 L1573.0,1068.0 L1577.0,1096.0 L1579.0,1120.0 L1584.0,1136.0 L1592.0,1143.0 L1598.0,1149.0 L1607.0,1136.0 L1614.0,1140.0 L1620.0,1142.0 L1630.0,1140.0 L1640.0,1142.0 L1648.0,1148.0 L1658.0,1149.0 L1666.0,1147.0 L1672.0,1124.0 L1680.0,1112.0 L1686.0,1088.0 L1692.0,1096.0 L1696.0,1114.0 L1702.0,1106.0 L1712.0,1112.0 L1724.0,1098.0 L1732.0,1082.0 L1743.0,1070.0 L1749.0,1096.0 L1755.0,1075.0 L1766.0,1090.0 L1780.0,1077.0 L1792.0,1082.0 L1801.0,1090.0 L1808.0,1077.0 L1820.0,1082.0 L1828.0,1069.0 L1840.0,1076.0 L1850.0,1063.0 L1860.0,1061.0 L1868.0,1069.0 L1876.0,1060.0 L1883.0,1058.0" fill="none" stroke="#000000" stroke-opacity="0.3" stroke-width="5" stroke-linejoin="round"/>
<path d="M393.0,1017.6 L397.1,1017.6 L401.2,1018.5 L405.3,1017.7 L409.4,1017.1 L413.6,1017.2 L417.7,1017.3 L421.8,1015.5 L425.9,1017.6 L430.0,1016.4 L434.0,1017.1 L438.0,1017.4 L442.0,1017.2 L446.0,1016.1 L450.0,1016.1 L454.0,1015.4 L458.0,1016.7 L462.0,1015.3 L466.0,1015.3 L470.0,1016.4 L474.3,1015.8 L478.6,1015.9 L482.9,1016.5 L487.1,1015.9 L491.4,1016.0 L495.7,1016.5 L500.0,1017.6 L504.0,1016.8 L508.0,1017.8 L512.0,1017.2 L516.0,1019.7 L520.0,1019.0 L534.0,1024.0 L546.0,1030.0 L556.0,1040.0 L566.0,1050.0 L576.0,1064.0 L586.0,1078.0 L596.0,1090.0 L606.0,1102.0 L616.0,1111.0 L630.0,1115.6 L650.0,1116.0 L670.0,1113.6 L690.0,1106.0 L710.0,1098.0 L730.0,1086.0 L750.0,1074.0 L770.0,1066.0 L780.0,1058.0 L790.0,1054.0 L804.0,1051.0 L814.0,1055.0 L820.0,1066.0 L824.0,1080.0 L828.0,1094.0 L832.0,1105.0 L837.0,1111.0 L844.0,1105.0 L850.0,1107.0 L858.0,1091.0 L864.0,1098.0 L870.0,1092.0 L876.0,1076.0 L882.0,1068.0 L888.0,1054.0 L898.0,1048.0 L910.0,1042.0 L930.0,1039.0 L950.0,1035.6 L980.0,1033.0 L1010.0,1030.0 L1050.0,1029.0 L1082.0,1027.0 L1094.0,1029.0 L1098.0,1026.0 L1110.0,1029.0 L1150.0,1026.0 L1210.0,1028.0 L1270.0,1029.0 L1290.0,1030.4 L1310.0,1029.0 L1330.0,1031.0 L1342.0,1035.0 L1350.0,1040.0 L1354.0,1048.0 L1358.0,1070.0 L1360.0,1090.0 L1362.0,1120.0 L1364.0,1140.0 L1367.0,1156.0 L1370.0,1138.0 L1376.0,1130.0 L1379.0,1100.0 L1382.0,1070.0 L1385.0,1056.0 L1391.0,1046.0 L1394.0,1050.0 L1397.0,1072.0 L1400.0,1098.0 L1403.0,1080.0 L1406.0,1058.0 L1412.0,1042.0 L1420.0,1035.0 L1434.0,1033.0 L1454.0,1036.0 L1460.0,1042.0 L1464.0,1050.0 L1467.0,1068.0 L1470.0,1086.0 L1478.0,1104.0 L1483.0,1092.0 L1490.0,1077.0 L1498.0,1095.0 L1502.0,1086.0 L1512.0,1080.0 L1516.0,1064.0 L1524.0,1074.0 L1528.0,1100.0 L1531.0,1124.0 L1538.0,1120.0 L1544.0,1132.0 L1548.0,1100.0 L1553.0,1072.0 L1560.0,1067.0 L1566.0,1064.0 L1573.0,1068.0 L1577.0,1096.0 L1579.0,1120.0 L1584.0,1136.0 L1592.0,1143.0 L1598.0,1149.0 L1607.0,1136.0 L1614.0,1140.0 L1620.0,1142.0 L1630.0,1140.0 L1640.0,1142.0 L1648.0,1148.0 L1658.0,1149.0 L1666.0,1147.0 L1672.0,1124.0 L1680.0,1112.0 L1686.0,1088.0 L1692.0,1096.0 L1696.0,1114.0 L1702.0,1106.0 L1712.0,1112.0 L1724.0,1098.0 L1732.0,1082.0 L1743.0,1070.0 L1749.0,1096.0 L1755.0,1075.0 L1766.0,1090.0 L1780.0,1077.0 L1792.0,1082.0 L1801.0,1090.0 L1808.0,1077.0 L1820.0,1082.0 L1828.0,1069.0 L1840.0,1076.0 L1850.0,1063.0 L1860.0,1061.0 L1868.0,1069.0 L1876.0,1060.0 L1883.0,1058.0" fill="none" stroke="#000000" stroke-width="3.0" stroke-linejoin="round"/>
<text x="41.6" y="217" class="lb" fill="#5a3b9b">FPOSS25-FAC</text>
<text x="38" y="382" class="lb" fill="#252d5c">FPOSS20-FAC</text>
<text x="29" y="517" class="lb" fill="#007a36">FPOSS10-FAC</text>
<text x="276" y="628" class="lb" fill="#dd86bb">FAC</text>
<text x="45" y="726" class="lb" style="font-size:49.2px" fill="#0844a4">7F-MAP-POSS</text>
<text x="89" y="945" class="lb" fill="#ff1a1a">7F-T<tspan font-size="29" dy="17">7</tspan><tspan dy="-17">-(ONa)</tspan><tspan font-size="29" dy="17">3</tspan></text>
<text x="185" y="1039" class="lb" fill="#000">MAP-TS</text>
<text x="502.3" y="106.5" class="an">3400~3600</text>
<text x="838.8" y="146.3" class="an" style="font-size:43.3px">2960</text>
<text x="1251.6" y="133" class="an" style="font-size:43.3px">1737</text>
<text x="1406.6" y="147.6" class="an" style="font-size:43.3px">1635</text>
<text x="1423.6" y="62" class="an" style="font-size:43.3px">1240</text>
<text x="1654.4" y="94.6" class="an" style="font-size:43.3px">1141</text>
<text x="1178.3" y="877.4" class="an" style="font-size:42.5px">1720</text>
<text x="1418" y="896.3" class="an" style="font-size:42.5px">1230</text>
<text x="1735.6" y="1041.4" class="an" style="font-size:42.5px">1120</text>
<text x="899" y="1366" font-size="55" fill="#111">Wavenumber (cm</text>
<text x="1332.3" y="1336.5" font-size="30" fill="#111">-</text>
<text transform="translate(1344.5,1336.5) scale(0.7,1)" font-size="35" fill="#111">1</text>
<text x="1365.7" y="1366" font-size="55" fill="#111">)</text>
<path d="M555.9,120.5V140.2M555.9,160.2V179.9M555.9,199.9V219.6M555.9,239.6V259.3M555.9,279.3V299.0M555.9,319.0V338.7M555.9,358.7V378.4M555.9,398.4V418.1M555.9,438.1V457.8M555.9,477.8V497.5M555.9,517.5V537.2M555.9,557.2V576.9M555.9,596.9V616.6M555.9,636.6V656.3M555.9,676.3V696.0M555.9,716.0V735.7M555.9,755.7V775.4M555.9,795.4V815.1M555.9,835.1V854.8M555.9,874.8V894.5M555.9,914.5V934.2M555.9,954.2V973.9M555.9,993.9V1013.6M555.9,1033.6V1053.3M555.9,1073.3V1093.0M555.9,1113.0V1132.7" stroke="#111" stroke-width="4.4" fill="none"/>
<path d="M667.3,129.0V148.7M667.3,168.7V188.4M667.3,208.4V228.1M667.3,248.1V267.8M667.3,287.8V307.5M667.3,327.5V347.2M667.3,367.2V386.9M667.3,406.9V426.6M667.3,446.6V466.3M667.3,486.3V506.0M667.3,526.0V545.7M667.3,565.7V585.4M667.3,605.4V625.1M667.3,645.1V664.8M667.3,684.8V704.5M667.3,724.5V744.2M667.3,764.2V783.9M667.3,803.9V823.6M667.3,843.6V863.3M667.3,883.3V903.0M667.3,923.0V942.7M667.3,962.7V982.4M667.3,1002.4V1022.1M667.3,1042.1V1061.8M667.3,1081.8V1101.5M667.3,1121.5V1141.2" stroke="#111" stroke-width="3.5" fill="none"/>
<path d="M555.4,123.5H574.9M594.4,123.5H614.1M633.5,123.5H652.8" stroke="#111" stroke-width="6" fill="none"/>
<path d="M667.3,1161.2V1164H650M630,1164H610M590,1164H570" stroke="#111" stroke-width="4" fill="none"/>
<path d="M837.5,122.0V141.7M837.5,161.7V181.4M837.5,201.4V221.1M837.5,241.1V260.8M837.5,280.8V300.5M837.5,320.5V340.2M837.5,360.2V379.9M837.5,399.9V419.6M837.5,439.6V459.3M837.5,479.3V499.0M837.5,519.0V538.7M837.5,558.7V578.4M837.5,598.4V618.1M837.5,638.1V657.8M837.5,677.8V697.5M837.5,717.5V737.2M837.5,757.2V776.9M837.5,796.9V816.6M837.5,836.6V856.3M837.5,876.3V896.0M837.5,916.0V935.7M837.5,955.7V975.4M837.5,995.4V1015.1M837.5,1035.1V1054.8M837.5,1074.8V1094.5M837.5,1114.5V1134.2M837.5,1154.2V1173.9" stroke="#111" stroke-width="6.5" fill="none"/>
<path d="M1356.8,120.0V139.7M1356.8,159.7V179.4M1356.8,199.4V219.1M1356.8,239.1V258.8M1356.8,278.8V298.5M1356.8,318.5V338.2M1356.8,358.2V377.9M1356.8,397.9V417.6M1356.8,437.6V457.3M1356.8,477.3V497.0M1356.8,517.0V536.7M1356.8,556.7V576.4M1356.8,596.4V616.1M1356.8,636.1V655.8M1356.8,675.8V695.5" stroke="#111" stroke-width="4.3" fill="none"/>
<path d="M1367.6,739.0V758.7M1367.6,778.7V798.4M1367.6,818.4V838.1M1367.6,858.1V877.8M1367.6,897.8V917.5M1367.6,937.5V957.2M1367.6,977.2V996.9M1367.6,1016.9V1036.6M1367.6,1056.6V1076.3M1367.6,1096.3V1116.0M1367.6,1136.0V1155.7" stroke="#111" stroke-width="4.3" fill="none"/>
<path d="M1400.8,115.7V135.4M1400.8,155.4V175.1M1400.8,195.1V214.8M1400.8,234.8V254.5M1400.8,274.5V294.2M1400.8,314.2V333.9M1400.8,353.9V373.6M1400.8,393.6V413.3M1400.8,433.3V453.0M1400.8,473.0V492.7M1400.8,512.7V532.4M1400.8,552.4V572.1M1400.8,592.1V611.8M1400.8,631.8V651.5M1400.8,671.5V691.2M1400.8,711.2V730.9M1400.8,750.9V770.6M1400.8,790.6V810.3M1400.8,830.3V850.0M1400.8,870.0V889.7M1400.8,909.7V929.4M1400.8,949.4V969.1M1400.8,989.1V1008.8M1400.8,1028.8V1048.5M1400.8,1068.5V1088.2M1400.8,1108.2V1127.9M1400.8,1147.9V1167.6" stroke="#111" stroke-width="4.3" fill="none"/>
<path d="M1567,157.4V177.1M1567,197.1V216.8M1567,236.8V256.5M1567,276.5V296.2M1567,316.2V335.9M1567,355.9V375.6M1567,395.6V415.3M1567,435.3V455.0M1567,475.0V494.7M1567,514.7V534.4M1567,554.4V574.1M1567,594.1V613.8M1567,633.8V653.5M1567,673.5V693.2M1567,713.2V732.9" stroke="#111" stroke-width="6.2" fill="none"/>
<path d="M1576.6,787.0V806.7M1576.6,826.7V846.4M1576.6,866.4V886.1M1576.6,906.1V925.8M1576.6,945.8V965.5M1576.6,985.5V1005.2M1576.6,1025.2V1044.9M1576.6,1064.9V1084.6M1576.6,1104.6V1124.3M1576.6,1144.3V1164.0" stroke="#111" stroke-width="5.5" fill="none"/>
<path d="M1612.5,162.0V181.7M1612.5,201.7V221.4M1612.5,241.4V261.1M1612.5,281.1V300.8M1612.5,320.8V340.5M1612.5,360.5V380.2M1612.5,400.2V419.9M1612.5,439.9V459.6M1612.5,479.6V499.3M1612.5,519.3V539.0M1612.5,559.0V578.7M1612.5,598.7V618.4M1612.5,638.4V658.1M1612.5,678.1V697.8M1612.5,717.8V737.5" stroke="#111" stroke-width="6.5" fill="none"/>
<path d="M1619.3,781.5V801.2M1619.3,821.2V840.9M1619.3,860.9V880.6M1619.3,900.6V920.3M1619.3,940.3V960.0M1619.3,980.0V999.7M1619.3,1019.7V1039.4M1619.3,1059.4V1079.1M1619.3,1099.1V1118.8M1619.3,1138.8V1158.5" stroke="#111" stroke-width="4.5" fill="none"/>
<line x1="1526.4" y1="73.1" x2="1555" y2="129.6" stroke="#444" stroke-width="2"/>
<polygon points="1565.7,150.9 1546,128.4 1559.1,122.2" fill="#000"/>
<line x1="1654.1" y1="75.6" x2="1622" y2="134" stroke="#444" stroke-width="2"/>
<polygon points="1610.3,155 1616.5,127.6 1631.2,134.5" fill="#000"/>
<rect x="1281.8" y="858.2" width="45.5" height="6.5" fill="#e0e0e0"/>
<polygon points="1327.2,855.2 1355.9,862.8 1327.2,870.7" fill="#000"/>
<rect x="1502.2" y="903.9" width="45.5" height="3" fill="#bbb"/>
<polygon points="1547.5,900.2 1574,905.4 1547.5,912.8" fill="#000"/>
<rect x="1653" y="1022.7" width="70" height="6.5" fill="#e0e0e0"/>
<polygon points="1653.3,1017.8 1625.5,1025.5 1653.3,1032.8" fill="#000"/>
</svg>
</body></html>
